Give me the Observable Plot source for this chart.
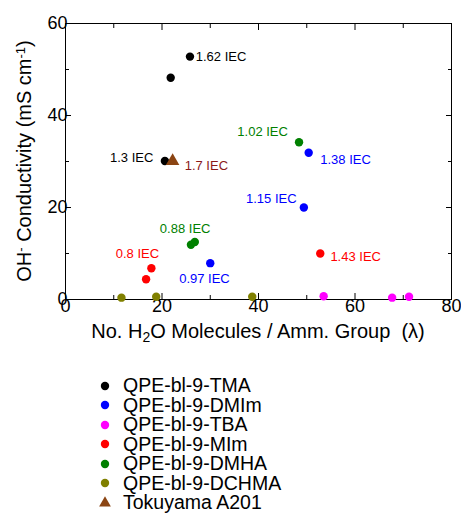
<!DOCTYPE html>
<html>
<head>
<meta charset="utf-8">
<script src="https://cdn.jsdelivr.net/npm/d3@7"></script>
<script src="https://cdn.jsdelivr.net/npm/@observablehq/plot@0.6"></script>
<style>
  body { margin: 0; background: #fff; font-family: "Liberation Sans", Arial, sans-serif; }
  #legend { margin-top: 31px; padding-left: 97px; }
  .row { height: 19.5px; display: flex; align-items: center; font-size: 19.5px; color: #000; line-height: 19.5px; }
  .row svg { width: 16px; height: 16px; margin-right: 10px; }
</style>
</head>
<body>
<div id="chart"></div>
<div id="legend"></div>
<script>
// Series (lambda, conductivity)
const seriesNames = ["QPE-bl-9-TMA", "QPE-bl-9-DMIm", "QPE-bl-9-TBA", "QPE-bl-9-MIm", "QPE-bl-9-DMHA", "QPE-bl-9-DCHMA", "Tokuyama A201"];
const seriesColors = ["#000000", "#0000ff", "#ff00ff", "#ff0000", "#008000", "#808000", "#8b4513"];
const tmaX = [25.8, 21.8, 20.6];
const tmaY = [52.8, 48.2, 30.1];
const dmimX = [50.4, 49.4, 30.0];
const dmimY = [31.9, 20.0, 7.9];
const tbaX = [53.5, 67.7, 71.2];
const tbaY = [0.7, 0.4, 0.6];
const mimX = [17.8, 16.7, 52.8];
const mimY = [6.8, 4.4, 10.0];
const dmhaX = [48.4, 26.0, 26.8];
const dmhaY = [34.2, 11.9, 12.5];
const dchmaX = [11.6, 18.8, 38.7];
const dchmaY = [0.4, 0.6, 0.6];
const a201X = [22.2];
const a201Y = [30.1];

// IEC annotations (text, position in data units, colour index)
const labelText = ["1.62 IEC", "1.3 IEC", "1.7 IEC", "1.02 IEC", "1.38 IEC", "1.15 IEC", "0.88 IEC", "0.8 IEC", "0.97 IEC", "1.43 IEC"];
const labelX = [27.0, 18.2, 24.7, 46.1, 52.8, 47.9, 24.8, 14.9, 28.8, 54.9];
const labelY = [52.8, 30.9, 29.1, 36.5, 30.4, 21.9, 15.4, 9.9, 4.5, 9.2];
const labelSeries = [0, 0, 6, 4, 1, 1, 4, 3, 1, 3];
const labelAnchor = ["start", "end", "start", "end", "start", "end", "middle", "middle", "middle", "start"];

const xMajor = [0, 20, 40, 60, 80];
const xMinor = [10, 30, 50, 70];
const yMajor = [0, 20, 40, 60];
const yMinor = [10, 30, 50];

const seriesXs = [tmaX, dmimX, tbaX, mimX, dmhaX, dchmaX, a201X];
const seriesYs = [tmaY, dmimY, tbaY, mimY, dmhaY, dchmaY, a201Y];
const points = [];
seriesXs.forEach((xs, s) => xs.forEach((x, i) => points.push({x, y: seriesYs[s][i], s})));
const circles = points.filter(d => d.s !== 6);
const triangles = points.filter(d => d.s === 6);
const labels = labelText.map((t, i) => ({t, x: labelX[i], y: labelY[i], s: labelSeries[i], a: labelAnchor[i]}));
const labelColors = ["#000000", "#0000ff", "#ff00ff", "#ff0000", "#008000", "#808000", "#8b1a1a"];

const font = "Liberation Sans, Arial, sans-serif";
const ticks = (anchor, axis, values, size) =>
  (axis === "x" ? Plot.axisX : Plot.axisY)({anchor, ticks: values, tickSize: -size, text: null, label: null, stroke: "#000"});

const plot = Plot.plot({
  width: 461,
  height: 345,
  marginLeft: 65,
  marginRight: 10,
  marginTop: 23,
  marginBottom: 46,
  style: {fontFamily: font, background: "#fff", color: "#000"},
  x: {domain: [0, 80]},
  y: {domain: [0, 60]},
  marks: [
    Plot.frame({stroke: "#000"}),
    ticks("bottom", "x", xMajor, 6), ticks("top", "x", xMajor, 6),
    ticks("bottom", "x", xMinor, 4), ticks("top", "x", xMinor, 4),
    ticks("left", "y", yMajor, 6), ticks("right", "y", yMajor, 6),
    ticks("left", "y", yMinor, 4), ticks("right", "y", yMinor, 4),
    Plot.axisX({ticks: xMajor, tickSize: 0, tickPadding: 0, fontSize: 18, label: null}),
    Plot.axisY({ticks: yMajor, tickSize: 0, tickPadding: -2, fontSize: 18, label: null}),
    Plot.dot(circles, {x: "x", y: "y", r: 4.2, fill: d => seriesColors[d.s], stroke: null}),
    Plot.dot(triangles, {x: "x", y: "y", r: 5, symbol: "triangle", fill: d => seriesColors[d.s], stroke: null}),
    Plot.text(labels.filter(d => d.a === "start"), {x: "x", y: "y", text: "t", fill: d => labelColors[d.s], textAnchor: "start", fontSize: 13}),
    Plot.text(labels.filter(d => d.a === "end"), {x: "x", y: "y", text: "t", fill: d => labelColors[d.s], textAnchor: "end", fontSize: 13}),
    Plot.text(labels.filter(d => d.a === "middle"), {x: "x", y: "y", text: "t", fill: d => labelColors[d.s], textAnchor: "middle", fontSize: 13})
  ]
});
document.getElementById("chart").appendChild(plot);

// Axis titles with sub/superscripts, placed from the plot's own scales
const sx = plot.scale("x"), sy = plot.scale("y");
const svg = d3.select(plot);
function title(parts, transform, size) {
  const t = svg.append("text")
    .attr("transform", transform)
    .attr("text-anchor", "middle")
    .attr("font-family", font)
    .attr("font-size", size)
    .attr("fill", "#000");
  parts.forEach(([s, kind]) => {
    const ts = t.append("tspan").text(s);
    if (kind === "sub") ts.attr("baseline-shift", "-25%").attr("font-size", "70%");
    if (kind === "sup") ts.attr("baseline-shift", "45%").attr("font-size", "65%");
  });
}
const cx = (sx.apply(0) + sx.apply(80)) / 2;
const cy = (sy.apply(0) + sy.apply(60)) / 2;
title([["No. H", ""], ["2", "sub"], ["O Molecules / Amm. Group\u00a0 (\u03bb)", ""]], `translate(${cx},${sy.apply(0) + 39})`, 20);
title([["OH", ""], ["-", "sup"], [" Conductivity (mS cm", ""], ["-1", "sup"], [")", ""]], `translate(${sx.apply(0) - 34},${cy}) rotate(-90)`, 20);

// Legend
const legend = d3.select("#legend");
seriesNames.forEach((name, i) => {
  const row = legend.append("div").attr("class", "row");
  const s = row.append("svg").attr("viewBox", "-8 -8 16 16");
  if (i === 6) s.append("path").attr("d", d3.symbol(d3.symbolTriangle, 60)()).attr("fill", seriesColors[i]);
  else s.append("circle").attr("r", 4.2).attr("fill", seriesColors[i]);
  row.append("span").text(name);
});
</script>
</body>
</html>
